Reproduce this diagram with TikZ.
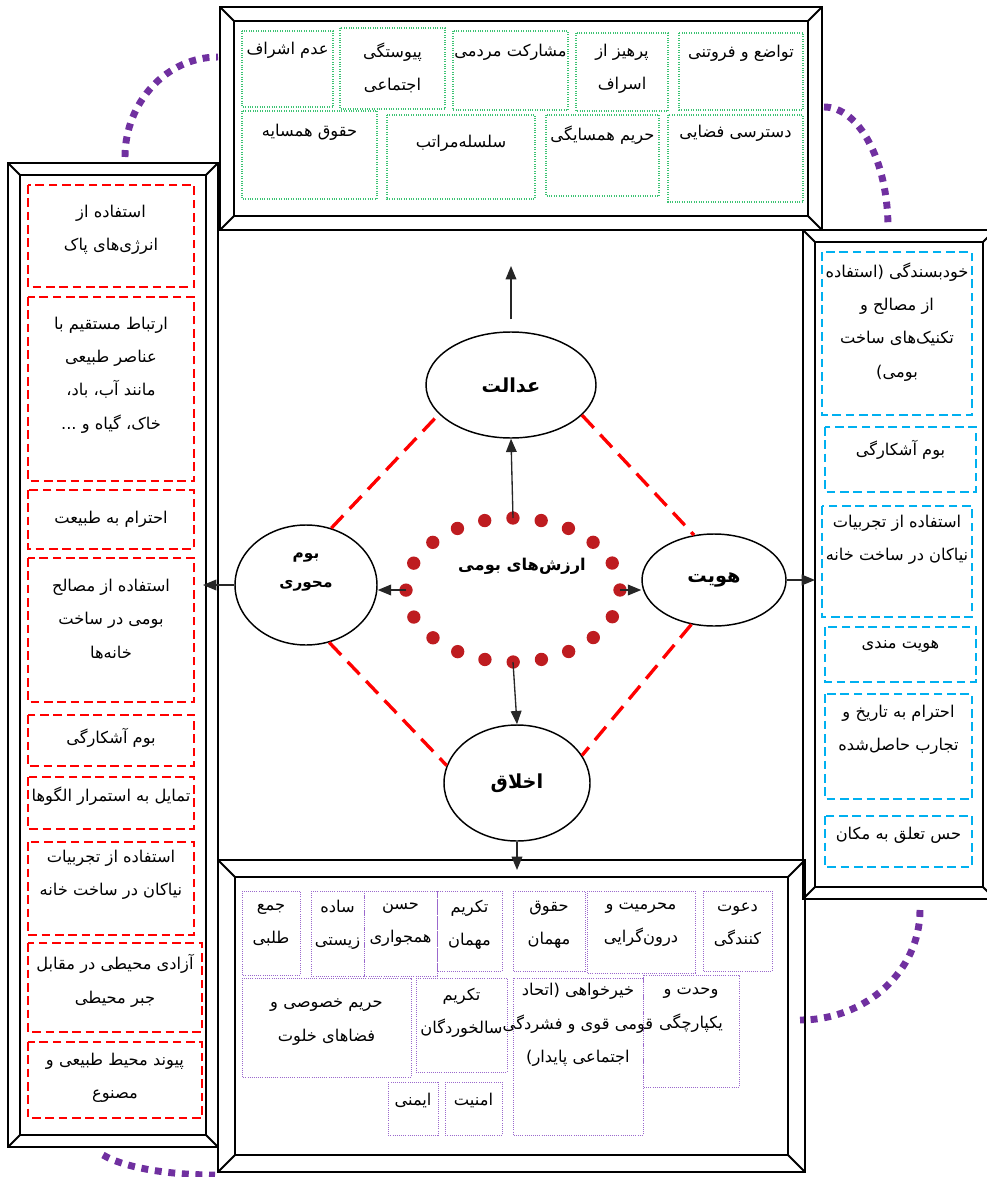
\documentclass[tikz,border=0pt]{standalone}
\usepackage{fontspec}
\usetikzlibrary{shapes.geometric,arrows.meta,positioning}
\newfontfamily\fafont[Script=Arabic]{DejaVu Sans}
\TeXXeTstate=1
\newcommand{\fa}[1]{\beginR #1\endR}

\definecolor{boxgreen}{RGB}{60,195,115}
\definecolor{boxblue}{RGB}{0,176,240}
\definecolor{boxpurple}{RGB}{155,105,205}
\definecolor{linkpurple}{RGB}{112,48,160}
\definecolor{ringred}{RGB}{190,28,32}

\tikzset{
  frame/.style={line width=1.4pt},
  greenbox/.style={draw=boxgreen, densely dotted, line width=0.8pt},
  redbox/.style={draw=red, dash pattern=on 6.5pt off 3.5pt, line width=1.8pt},
  bluebox/.style={draw=boxblue, dash pattern=on 6.5pt off 3.5pt, line width=1.8pt},
  purplebox/.style={draw=boxpurple, densely dotted, line width=0.6pt},
  txt/.style={font=\fafont\fontsize{12.2}{25}\selectfont, align=center, inner sep=0pt},
  value/.style={ellipse, draw, line width=1.1pt, inner sep=0pt,
    font=\fafont\bfseries\fontsize{14.5}{17}\selectfont},
  smallvalue/.style={font=\fafont\bfseries\fontsize{11.5}{22}\selectfont, align=center, inner sep=0pt},
  ring/.style={ellipse, draw=ringred, line width=10pt, line cap=round,
    dash pattern=on 0pt off 21.3pt, outer sep=0pt, inner sep=0pt},
  link/.style={-{Triangle[length=10pt,width=8pt]}, line width=1pt, black!85},
  diag/.style={draw=red, line width=2.5pt, dash pattern=on 13pt off 7pt},
  dotlink/.style={draw=linkpurple, line width=5.2pt, dash pattern=on 5.2pt off 5pt}
}

% bevelled frame: x1,y1,x2,y2,depth
\newcommand{\bevel}[5]{%
  \draw[frame] (#1,#2) rectangle (#3,#4) ({#1+#5},{#2+#5}) rectangle ({#3-#5},{#4-#5})
    (#1,#2) -- ({#1+#5},{#2+#5}) (#3,#2) -- ({#3-#5},{#2+#5})
    (#1,#4) -- ({#1+#5},{#4-#5}) (#3,#4) -- ({#3-#5},{#4-#5});}
% text box: style,name,x1,y1,x2,y2,ytext,text
\newcommand{\tbox}[8]{%
  \draw[#1] (#3,#4) rectangle (#5,#6);
  \node[txt] (#2) at ({(#3+#5)/2},#7) {#8};}

\begin{document}
\begin{tikzpicture}[x=0.75pt,y=-0.75pt]
\useasboundingbox (0,0) rectangle (986,1177);

% frames
\bevel{220}{7}{822}{230}{14}
\bevel{8}{163}{218}{1147}{12}
\bevel{803}{230}{995}{899}{12}
\bevel{218}{860}{805}{1172}{17}

% top: adalat
\tbox{greenbox}{t1}{242}{31}{333}{107}{50}{\fa{عدم اشراف}}
\tbox{greenbox}{t2}{340}{28}{445}{109}{68}{\fa{پیوستگی}\\\fa{اجتماعی}}
\tbox{greenbox}{t3}{453}{31}{568}{110}{52}{\fa{مشارکت مردمی}}
\tbox{greenbox}{t4}{576}{33}{668}{111}{69}{\fa{پرهیز از}\\\fa{اسراف}}
\tbox{greenbox}{t5}{679}{33}{803}{110}{53}{\fa{تواضع و فروتنی}}
\tbox{greenbox}{t6}{242}{111}{377}{199}{132}{\fa{حقوق همسایه}}
\tbox{greenbox}{t7}{387}{115}{535}{199}{143}{\fa{سلسله‌مراتب}}
\tbox{greenbox}{t8}{546}{115}{659}{196}{135}{\fa{حریم همسایگی}}
\tbox{greenbox}{t9}{668}{115}{803}{202}{133}{\fa{دسترسی فضایی}}

% left: boum mehvari
\tbox{redbox}{l1}{28}{185}{194}{287}{230}{\fa{استفاده از}\\\fa{انرژی‌های پاک}}
\tbox{redbox}{l2}{28}{297}{194}{481}{375}{\fa{ارتباط مستقیم با}\\\fa{عناصر طبیعی}\\\fa{مانند آب، باد،}\\\fa{خاک، گیاه و ...}}
\tbox{redbox}{l3}{28}{490}{194}{549}{519}{\fa{احترام به طبیعت}}
\tbox{redbox}{l4}{28}{558}{194}{702}{619}{\fa{استفاده از مصالح}\\\fa{بومی در ساخت}\\\fa{خانه‌ها}}
\tbox{redbox}{l5}{28}{715}{194}{766}{738}{\fa{بوم آشکارگی}}
\tbox{redbox}{l6}{28}{777}{194}{829}{796}{\fa{تمایل به استمرار الگوها}}
\tbox{redbox}{l7}{28}{842}{194}{935}{875}{\fa{استفاده از تجربیات}\\\fa{نیاکان در ساخت خانه}}
\tbox{redbox}{l8}{28}{943}{202}{1032}{981}{\fa{آزادی محیطی در مقابل}\\\fa{جبر محیطی}}
\tbox{redbox}{l9}{28}{1042}{202}{1118}{1078}{\fa{پیوند محیط طبیعی و}\\\fa{مصنوع}}

% right: hoviat
\tbox{bluebox}{r1}{822}{252}{972}{415}{322}{\fa{خودبسندگی (استفاده}\\\fa{از مصالح و}\\\fa{تکنیک‌های ساخت}\\\fa{بومی)}}
\tbox{bluebox}{r2}{825}{427}{976}{492}{450}{\fa{بوم آشکارگی}}
\tbox{bluebox}{r3}{822}{506}{972}{617}{540}{\fa{استفاده از تجربیات}\\\fa{نیاکان در ساخت خانه}}
\tbox{bluebox}{r4}{825}{627}{976}{682}{647}{\fa{هویت مندی}}
\tbox{bluebox}{r5}{825}{694}{972}{799}{730}{\fa{احترام به تاریخ و}\\\fa{تجارب حاصل‌شده}}
\tbox{bluebox}{r6}{825}{816}{972}{867}{835}{\fa{حس تعلق به مکان}}

% bottom: akhlagh
\tbox{purplebox}{b1}{242}{891}{300}{975}{925}{\fa{جمع}\\\fa{طلبی}}
\tbox{purplebox}{b2}{311}{891}{364}{976}{925}{\fa{ساده}\\\fa{زیستی}}
\tbox{purplebox}{b3}{364}{891}{437}{976}{925}{\fa{حسن}\\\fa{همجواری}}
\tbox{purplebox}{b4}{437}{891}{502}{971}{925}{\fa{تکریم}\\\fa{مهمان}}
\tbox{purplebox}{b5}{513}{891}{585}{971}{925}{\fa{حقوق}\\\fa{مهمان}}
\tbox{purplebox}{b6}{587}{891}{695}{973}{925}{\fa{محرمیت و}\\\fa{درون‌گرایی}}
\tbox{purplebox}{b7}{703}{891}{772}{971}{925}{\fa{دعوت}\\\fa{کنندگی}}
\tbox{purplebox}{b8}{242}{978}{411}{1077}{1022}{\fa{حریم خصوصی و}\\\fa{فضاهای خلوت}}
\tbox{purplebox}{b9}{416}{978}{507}{1072}{1013}{\fa{تکریم}\\\fa{سالخوردگان}}
\tbox{purplebox}{b10}{513}{978}{643}{1135}{1025}{\fa{خیرخواهی (اتحاد}\\\fa{قومی قوی و فشردگی}\\\fa{اجتماعی پایدار)}}
\tbox{purplebox}{b11}{643}{975}{739}{1087}{1010}{\fa{وحدت و}\\\fa{یکپارچگی}}
\tbox{purplebox}{b12}{388}{1082}{438}{1135}{1100}{\fa{ایمنی}}
\tbox{purplebox}{b13}{445}{1082}{502}{1135}{1100}{\fa{امنیت}}

% centre
\node[value, minimum width=127.5pt, minimum height=79.5pt] (adalat) at (511,385) {\fa{عدالت}};
\node[value, minimum width=106.5pt, minimum height=90pt] (boum) at (306,585) {};
\node[smallvalue] (boum-t) at (306,572) {\fa{بوم}\\\fa{محوری}};
\node[value, minimum width=108pt, minimum height=69pt] (hoviat) at (714,580) {\fa{هویت}};
\node[value, minimum width=109.5pt, minimum height=87pt] (akhlagh) at (517,783) {\fa{اخلاق}};
\node[ring, minimum width=160.5pt, minimum height=108pt] (core) at (513,590) {};
\node[smallvalue, font=\fafont\bfseries\fontsize{12.2}{14}\selectfont] (core-t) at (522,566) {\fa{ارزش‌های بومی}};

\draw[diag] (boum.66) -- (adalat.202);
\draw[diag] (adalat.337) -- (hoviat.114);
\draw[diag] (boum.292) -- (akhlagh.166);
\draw[diag] (hoviat.243) -- (akhlagh.23);

\coordinate (topend) at (509,266);
\coordinate (botend) at (513,870);
\coordinate (leftend) at (203,583);
\coordinate (rightend) at (815,581);

\draw[link] (core.north) -- (adalat.south);
\draw[link] (core.west) -- (core.west -| boum.east);
\draw[link] (core.east) -- (core.east -| hoviat.west);
\draw[link] (core.south) -- (akhlagh.north);
\draw[link, shorten <=9pt] (adalat.north) -- (adalat.north |- topend);
\draw[link] (akhlagh.south) -- (akhlagh.south |- botend);
\draw[link] (boum.west) -- (boum.west -| leftend);
\draw[link] (hoviat.east) -- (hoviat.east -| rightend);

% purple links between frames
\coordinate (tl1) at (125,157);
\coordinate (tl2) at (218,57);
\coordinate (tr1) at (824,107);
\coordinate (tr2) at (888,228);
\coordinate (br1) at (920,910);
\coordinate (br2) at (800,1020);
\coordinate (bl1) at (103,1155);
\coordinate (bl2) at (215,1175);
\draw[dotlink] (tl1) .. controls (125,102) and (167,57) .. (tl2);
\draw[dotlink] (tr1) .. controls (859,107) and (888,161) .. (tr2);
\draw[dotlink] (br1) .. controls (920,971) and (866,1020) .. (br2);
\draw[dotlink] (bl1) .. controls (125,1168) and (170,1175) .. (bl2);
\end{tikzpicture}
\end{document}
